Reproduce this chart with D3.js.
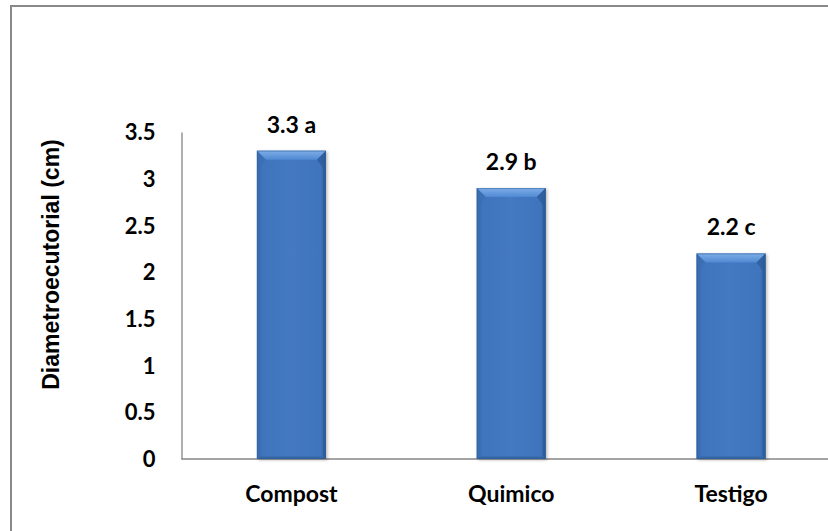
<!DOCTYPE html>
<html>
<head>
<meta charset="utf-8">
<script src="https://cdn.jsdelivr.net/npm/d3@7"></script>
<style>
  html, body { margin: 0; padding: 0; background: #fff; overflow: hidden; }
  svg { display: block; overflow: hidden; }
</style>
</head>
<body>
<script>
const categories = ["Compost", "Quimico", "Testigo"];
const values = [3.3, 2.9, 2.2];
const valueLabels = ["3.3 a", "2.9 b", "2.2 c"];
const yTicks = [0, 0.5, 1, 1.5, 2, 2.5, 3, 3.5];
const yTitle = "Diametroecutorial (cm)";

const W = 828, H = 531;
const plot = { left: 181.5, right: 841, top: 132, bottom: 459 };
const FONT = "Lato, Carlito, Calibri, sans-serif";

const svg = d3.select("body").append("svg").attr("width", W).attr("height", H);

const defs = svg.append("defs");
const gBody = defs.append("linearGradient").attr("id", "gBody").attr("x1", 0).attr("x2", 1).attr("y1", 0).attr("y2", 0);
gBody.append("stop").attr("offset", "0%").attr("stop-color", "#3566a8");
gBody.append("stop").attr("offset", "8%").attr("stop-color", "#3f75bd");
gBody.append("stop").attr("offset", "50%").attr("stop-color", "#4479c1");
gBody.append("stop").attr("offset", "92%").attr("stop-color", "#3f75bd");
gBody.append("stop").attr("offset", "100%").attr("stop-color", "#30619f");
const gTop = defs.append("linearGradient").attr("id", "gTop").attr("x1", 0).attr("x2", 0).attr("y1", 0).attr("y2", 1);
gTop.append("stop").attr("offset", "0%").attr("stop-color", "#7eaee8");
gTop.append("stop").attr("offset", "100%").attr("stop-color", "#5089d2");
const gBot = defs.append("linearGradient").attr("id", "gBot").attr("x1", 0).attr("x2", 0).attr("y1", 0).attr("y2", 1);
gBot.append("stop").attr("offset", "0%").attr("stop-color", "#3b70b4");
gBot.append("stop").attr("offset", "100%").attr("stop-color", "#2f5e9a");
const shadow = defs.append("filter").attr("id", "shadow").attr("x", "-20%").attr("y", "-10%").attr("width", "140%").attr("height", "120%");
shadow.append("feDropShadow").attr("dx", 1.5).attr("dy", 1).attr("stdDeviation", 1.5).attr("flood-color", "#000").attr("flood-opacity", 0.28);

// outer frame (cropped at right/bottom): draw only the visible top and left edges
svg.append("path")
  .attr("d", `M11,${H} L11,6 L${W},6`)
  .attr("fill", "none").attr("stroke", "#898989").attr("stroke-width", 2);

const x = d3.scaleBand().domain(categories).range([plot.left, plot.right])
  .paddingInner(0.686).paddingOuter(0.343);
const y = d3.scaleLinear().domain([0, 3.5]).range([plot.bottom, plot.top]);

// y axis
const yAxis = d3.axisLeft(y).tickValues(yTicks).tickSize(0).tickPadding(26)
  .tickFormat(d => String(d));
const yg = svg.append("g").attr("transform", `translate(${plot.left},0)`).call(yAxis);
yg.select(".domain").attr("stroke", "#868686").attr("stroke-width", 1.3);
yg.selectAll("text").attr("font-family", FONT)
  .attr("font-weight", "bold").attr("font-size", "22px").attr("fill", "#000")
  .attr("dy", "0.35em");

// x baseline
svg.append("line").attr("x1", plot.left).attr("x2", W)
  .attr("y1", y(0)).attr("y2", y(0)).attr("stroke", "#868686").attr("stroke-width", 1.6);

// x labels
const xAxis = d3.axisBottom(x).tickSize(0).tickPadding(27);
const xg = svg.append("g").attr("transform", `translate(0,${y(0)})`).call(xAxis);
xg.select(".domain").remove();
xg.selectAll("text").attr("font-family", FONT)
  .attr("font-weight", "bold").attr("font-size", "23px").attr("fill", "#000");

// bars
const data = categories.map((c, i) => ({ c, v: values[i], label: valueLabels[i] }));
const bw = x.bandwidth();
const bev = 9;
const bars = svg.append("g").selectAll("g").data(data).join("g");
bars.append("rect")
  .attr("x", d => x(d.c)).attr("y", d => y(d.v))
  .attr("width", bw).attr("height", d => y(0) - y(d.v))
  .attr("fill", "url(#gBody)").attr("filter", "url(#shadow)");
// top bevel
bars.append("polygon").attr("points", d => {
  const x0 = x(d.c), y0 = y(d.v);
  return [[x0, y0], [x0 + bw, y0], [x0 + bw - bev, y0 + bev], [x0 + bev, y0 + bev]].join(" ");
}).attr("fill", "url(#gTop)");
// bottom bevel
bars.append("polygon").attr("points", d => {
  const x0 = x(d.c), yb = y(0);
  return [[x0, yb], [x0 + bw, yb], [x0 + bw - 3, yb - 3], [x0 + 3, yb - 3]].join(" ");
}).attr("fill", "url(#gBot)");
// side bevels (thin)
bars.append("polygon").attr("points", d => {
  const x0 = x(d.c), y0 = y(d.v), yb = y(0);
  return [[x0, y0], [x0 + bev, y0 + bev], [x0 + 3, y0 + bev + 8], [x0 + 3, yb - 3], [x0, yb]].join(" ");
}).attr("fill", "#3a6eb2").attr("opacity", 0.7);
bars.append("polygon").attr("points", d => {
  const x1 = x(d.c) + bw, y0 = y(d.v), yb = y(0);
  return [[x1, y0], [x1 - bev, y0 + bev], [x1 - 3, y0 + bev + 8], [x1 - 3, yb - 3], [x1, yb]].join(" ");
}).attr("fill", "#2d5b98").attr("opacity", 0.75);
bars.append("rect")
  .attr("x", d => x(d.c) + 0.5).attr("y", d => y(d.v) + 0.5)
  .attr("width", bw - 1).attr("height", d => y(0) - y(d.v) - 1)
  .attr("fill", "none").attr("stroke", "#2f5d98").attr("stroke-width", 1).attr("opacity", 0.5);

// value labels
bars.append("text")
  .attr("x", d => x(d.c) + bw / 2).attr("y", d => y(d.v) - 18)
  .attr("text-anchor", "middle")
  .attr("font-family", FONT)
  .attr("font-weight", "bold").attr("font-size", "23px").attr("fill", "#000")
  .text(d => d.label);

// y title
svg.append("text")
  .attr("transform", `translate(59,${(138 + 391) / 2}) rotate(-90)`)
  .attr("text-anchor", "middle")
  .attr("font-family", "'Liberation Sans', Arial, sans-serif")
  .attr("font-weight", "bold").attr("font-size", "23px").attr("fill", "#000")
  .text(yTitle);
</script>
</body>
</html>
